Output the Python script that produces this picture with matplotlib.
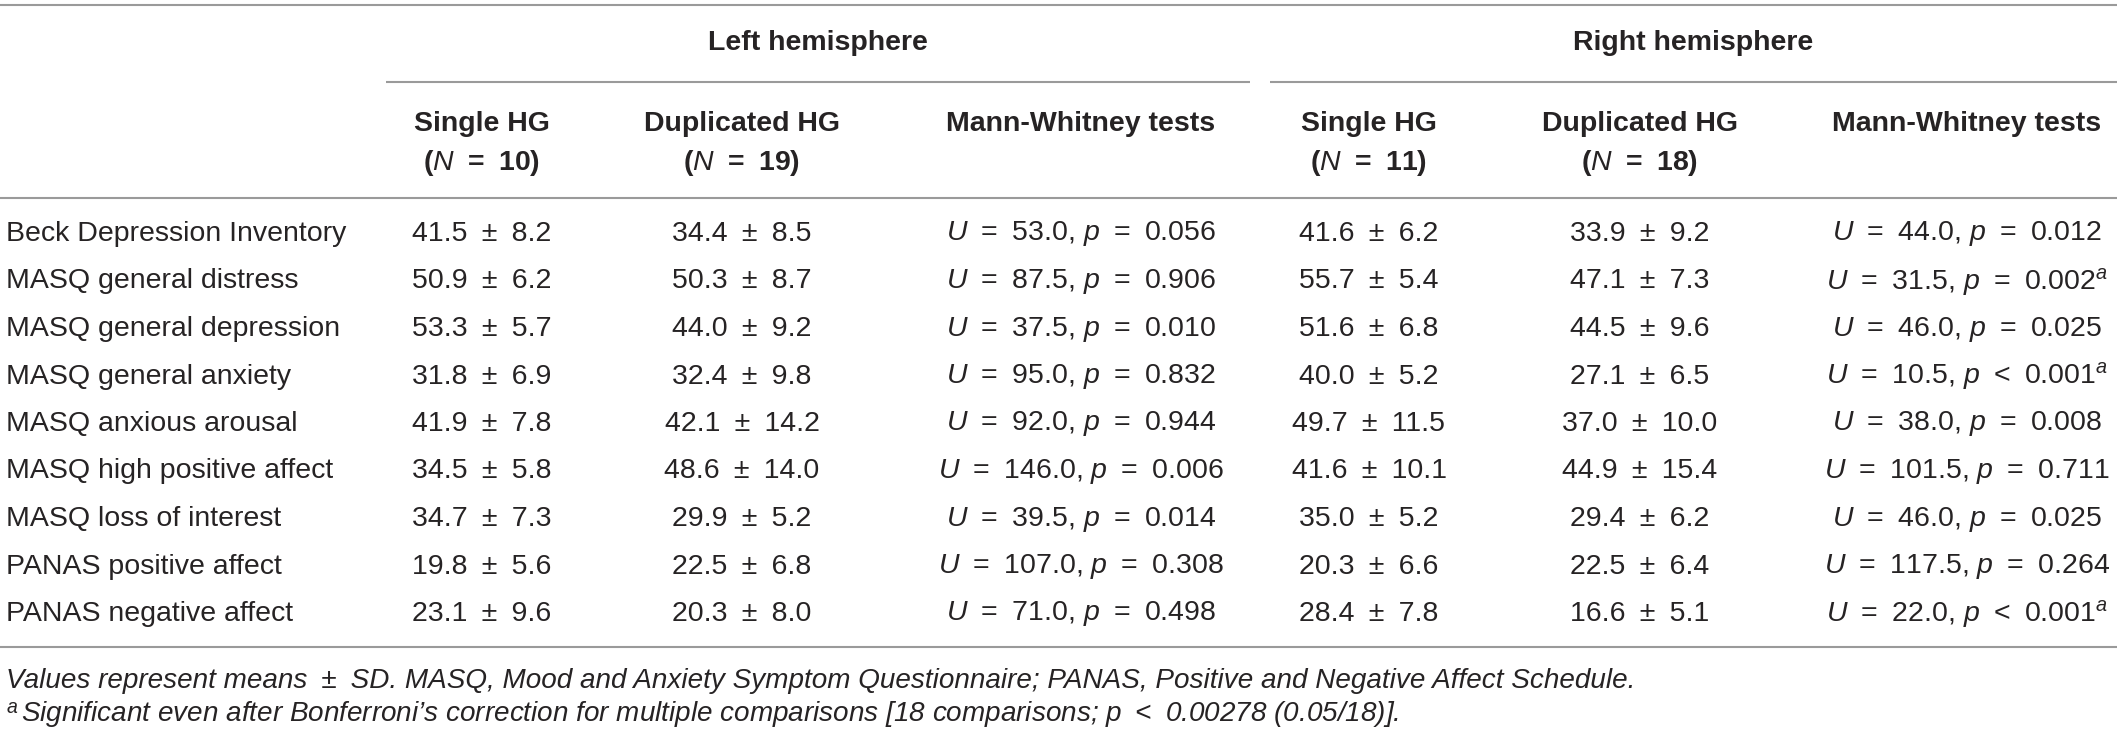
import matplotlib
matplotlib.use("Agg")
import matplotlib.pyplot as plt

plt.rcParams['font.family'] = ['Liberation Sans', 'DejaVu Sans']
plt.rcParams['mathtext.fontset'] = 'custom'
plt.rcParams['mathtext.rm'] = 'Liberation Sans'
plt.rcParams['mathtext.it'] = 'Liberation Sans:italic'
plt.rcParams['mathtext.bf'] = 'Liberation Sans:bold'

# Dane tabeli
measures = ["Beck Depression Inventory", "MASQ general distress", "MASQ general depression",
            "MASQ general anxiety", "MASQ anxious arousal", "MASQ high positive affect",
            "MASQ loss of interest", "PANAS positive affect", "PANAS negative affect"]

left_single_mean = [41.5, 50.9, 53.3, 31.8, 41.9, 34.5, 34.7, 19.8, 23.1]
left_single_sd = [8.2, 6.2, 5.7, 6.9, 7.8, 5.8, 7.3, 5.6, 9.6]
left_dup_mean = [34.4, 50.3, 44.0, 32.4, 42.1, 48.6, 29.9, 22.5, 20.3]
left_dup_sd = [8.5, 8.7, 9.2, 9.8, 14.2, 14.0, 5.2, 6.8, 8.0]
left_U = [53.0, 87.5, 37.5, 95.0, 92.0, 146.0, 39.5, 107.0, 71.0]
left_p = [0.056, 0.906, 0.010, 0.832, 0.944, 0.006, 0.014, 0.308, 0.498]
left_p_op = ["=", "=", "=", "=", "=", "=", "=", "=", "="]
left_sig = [False] * 9

right_single_mean = [41.6, 55.7, 51.6, 40.0, 49.7, 41.6, 35.0, 20.3, 28.4]
right_single_sd = [6.2, 5.4, 6.8, 5.2, 11.5, 10.1, 5.2, 6.6, 7.8]
right_dup_mean = [33.9, 47.1, 44.5, 27.1, 37.0, 44.9, 29.4, 22.5, 16.6]
right_dup_sd = [9.2, 7.3, 9.6, 6.5, 10.0, 15.4, 6.2, 6.4, 5.1]
right_U = [44.0, 31.5, 46.0, 10.5, 38.0, 101.5, 46.0, 117.5, 22.0]
right_p = [0.012, 0.002, 0.025, 0.001, 0.008, 0.711, 0.025, 0.264, 0.001]
right_p_op = ["=", "=", "=", "<", "=", "=", "=", "=", "<"]
right_sig = [False, True, False, True, False, False, False, False, True]

groups = ["Left hemisphere", "Right hemisphere"]
col_names = ["Single HG", "Duplicated HG", "Mann-Whitney tests"]
group_n = [[10, 19], [11, 18]]

SP = "\u2002"  # szersza spacja wokół operatorów
footnote_1 = (f"Values represent means{SP}\u00b1{SP}SD. MASQ, Mood and Anxiety Symptom Questionnaire; "
              "PANAS, Positive and Negative Affect Schedule.")
footnote_2 = ("Significant even after Bonferroni\u2019s correction for multiple comparisons "
              f"[18 comparisons; $\\mathit{{p}}${SP}<{SP}0.00278 (0.05/18)].")

W, H = 2117, 733
TXT = '#262324'
RULE = '#9a9a9a'
FS = 20.5
FS_NOTE = 20.1


def mean_sd(m, s):
    return f"{m:.1f}{SP}\u00b1{SP}{s:.1f}"


def mw_text(u, op, p, sig):
    t = f"$\\mathit{{U}}${SP}={SP}{u:.1f}, $\\mathit{{p}}${SP}{op}{SP}{p:.3f}"
    if sig:
        t += "$^{\\mathit{a}}$"
    return t


def draw_table():
    fig = plt.figure(figsize=(W / 100, H / 100), dpi=100)
    ax = fig.add_axes([0, 0, 1, 1])
    ax.set_xlim(0, W)
    ax.set_ylim(H, 0)
    ax.axis('off')

    # Linie poziome
    for y in [5, 198, 647]:
        ax.plot([0, W], [y, y], color=RULE, lw=1.5, solid_capstyle='butt')
    ax.plot([386, 1250], [82, 82], color=RULE, lw=1.5, solid_capstyle='butt')
    ax.plot([1270, W], [82, 82], color=RULE, lw=1.5, solid_capstyle='butt')

    # Nagłówki
    group_x = [818, 1693]
    col_x = [[482, 742, 1081], [1369, 1640, 1967]]
    for g in range(2):
        ax.text(group_x[g], 43, groups[g], ha='center', va='center',
                fontsize=FS, fontweight='bold', color=TXT)
        for c in range(3):
            ax.text(col_x[g][c], 124, col_names[c], ha='center', va='center',
                    fontsize=FS, fontweight='bold', color=TXT)
        for c in range(2):
            ax.text(col_x[g][c], 163, f"($\\mathbf{{\\mathit{{N}}}}${SP}={SP}{group_n[g][c]})",
                    ha='center', va='center', fontsize=FS, fontweight='bold', color=TXT)

    # Wiersze
    left = [left_single_mean, left_single_sd, left_dup_mean, left_dup_sd, left_U, left_p_op, left_p, left_sig]
    right = [right_single_mean, right_single_sd, right_dup_mean, right_dup_sd, right_U, right_p_op, right_p, right_sig]
    for i, name in enumerate(measures):
        y = 234 + 47.5 * i
        ax.text(6, y, name, ha='left', va='center', fontsize=FS, color=TXT)
        for g, d in enumerate([left, right]):
            ax.text(col_x[g][0], y, mean_sd(d[0][i], d[1][i]), ha='center', va='center',
                    fontsize=FS, color=TXT)
            ax.text(col_x[g][1], y, mean_sd(d[2][i], d[3][i]), ha='center', va='center',
                    fontsize=FS, color=TXT)
            ax.text(col_x[g][2], y, mw_text(d[4][i], d[5][i], d[6][i], d[7][i]),
                    ha='center', va='center', fontsize=FS, color=TXT)

    # Przypisy
    ax.text(6, 681, footnote_1, ha='left', va='center', fontsize=FS_NOTE,
            style='italic', color=TXT)
    ax.text(6, 714, "$^{a}$", ha='left', va='center', fontsize=FS_NOTE, color=TXT)
    ax.text(21, 714, footnote_2, ha='left', va='center', fontsize=FS_NOTE,
            style='italic', color=TXT)

    fig.savefig('out.png', dpi=100)


if __name__ == "__main__":
    draw_table()
